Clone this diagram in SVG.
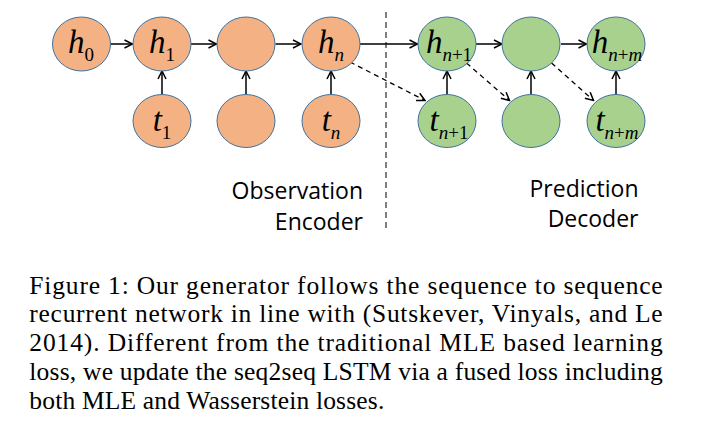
<svg xmlns="http://www.w3.org/2000/svg" width="706" height="430" viewBox="0 0 706 430">
<defs>
<style>
.o{fill:#F4B183;stroke:#41719C;stroke-width:1}
.g{fill:#A9D18E;stroke:#41719C;stroke-width:1}
.a{stroke:#000;stroke-width:1.5;fill:none;marker-end:url(#ah)}
.d{stroke:#000;stroke-width:1.3;fill:none;stroke-dasharray:5 4;marker-end:url(#ah)}
.lbl{font-family:"Liberation Serif","Times New Roman",serif;font-size:33px;font-style:italic;fill:#000;text-anchor:middle}
.sub{font-size:19px}
.up{font-style:normal}
.hd{font-family:"Open Sans","DejaVu Sans",sans-serif;font-size:23px;fill:#000;text-anchor:end}
.cap{font-family:"Liberation Serif","Times New Roman",serif;font-size:25.5px;fill:#000}
</style>
<marker id="ah" viewBox="0 0 10 10" refX="9" refY="5" markerWidth="10" markerHeight="10" markerUnits="userSpaceOnUse" orient="auto">
<path d="M1,1 L9,5 L1,9" fill="none" stroke="#000" stroke-width="1.5"/>
</marker>
</defs>
<g id="connectors">
<line class="a" x1="110.5" y1="44" x2="132.5" y2="44"/>
<line class="a" x1="191" y1="44" x2="216.5" y2="44"/>
<line class="a" x1="275.5" y1="44" x2="301" y2="44"/>
<line class="a" x1="360" y1="44" x2="417.5" y2="44"/>
<line class="a" x1="476" y1="44" x2="502" y2="44"/>
<line class="a" x1="561" y1="44" x2="586.5" y2="44"/>
<line class="a" x1="162" y1="95" x2="162" y2="71"/>
<line class="a" x1="246" y1="95" x2="246" y2="71"/>
<line class="a" x1="331" y1="95" x2="331" y2="71"/>
<line class="a" x1="447" y1="95" x2="447" y2="71"/>
<line class="a" x1="531" y1="95" x2="531" y2="71"/>
<line class="a" x1="616" y1="95" x2="616" y2="71"/>
<line class="d" x1="350" y1="62" x2="425" y2="100.5"/>
<line class="d" x1="466.5" y1="63" x2="509.5" y2="100.5"/>
<line class="d" x1="551.5" y1="63" x2="593.5" y2="100.5"/>
<line x1="386" y1="12" x2="386" y2="232" stroke="#000" stroke-width="1" stroke-dasharray="6 4"/>
</g>
<g id="h0"><ellipse class="o" cx="81.5" cy="44" rx="29" ry="27"/><text class="lbl" x="81" y="53">h<tspan class="sub up" dy="8">0</tspan></text></g>
<g id="h1"><ellipse class="o" cx="162" cy="44" rx="29" ry="27"/><text class="lbl" x="162" y="53">h<tspan class="sub up" dy="8">1</tspan></text></g>
<g id="h2"><ellipse class="o" cx="246" cy="44" rx="29" ry="27"/></g>
<g id="hn"><ellipse class="o" cx="331" cy="44" rx="29" ry="27"/><text class="lbl" x="331" y="53">h<tspan class="sub" dy="8">n</tspan></text></g>
<g id="t1"><ellipse class="o" cx="162" cy="121" rx="29" ry="26.5"/><text class="lbl" x="162" y="131">t<tspan class="sub up" dy="8">1</tspan></text></g>
<g id="t2"><ellipse class="o" cx="246" cy="121" rx="29" ry="26.5"/></g>
<g id="tn"><ellipse class="o" cx="331" cy="121" rx="29" ry="26.5"/><text class="lbl" x="331" y="131">t<tspan class="sub" dy="8">n</tspan></text></g>
<g id="hn1"><ellipse class="g" cx="447" cy="44" rx="29" ry="27"/><text class="lbl" x="449" y="53">h<tspan class="sub" dy="8">n</tspan><tspan class="sub up">+1</tspan></text></g>
<g id="hn2"><ellipse class="g" cx="531" cy="44" rx="29" ry="27"/></g>
<g id="hnm"><ellipse class="g" cx="616" cy="44" rx="29" ry="27"/><text class="lbl" x="617" y="53">h<tspan class="sub" dy="8">n</tspan><tspan class="sub up">+</tspan><tspan class="sub">m</tspan></text></g>
<g id="tn1"><ellipse class="g" cx="447" cy="121" rx="29" ry="26.5"/><text class="lbl" x="449" y="131">t<tspan class="sub" dy="8">n</tspan><tspan class="sub up">+1</tspan></text></g>
<g id="tn2"><ellipse class="g" cx="531" cy="121" rx="29" ry="26.5"/></g>
<g id="tnm"><ellipse class="g" cx="616" cy="121" rx="29" ry="26.5"/><text class="lbl" x="617" y="131">t<tspan class="sub" dy="8">n</tspan><tspan class="sub up">+</tspan><tspan class="sub">m</tspan></text></g>
<g id="labels">
<text class="hd" x="363" y="199">Observation</text>
<text class="hd" x="363" y="230">Encoder</text>
<text class="hd" x="638.5" y="197">Prediction</text>
<text class="hd" x="638.5" y="227">Decoder</text>
</g>
<g id="caption" class="cap">
<text x="29.3" y="293.5" textLength="633.4" lengthAdjust="spacing">Figure 1: Our generator follows the sequence to sequence</text>
<text x="29.3" y="322" textLength="633.4" lengthAdjust="spacing">recurrent network in line with (Sutskever, Vinyals, and Le</text>
<text x="29.3" y="351" textLength="633.4" lengthAdjust="spacing">2014). Different from the traditional MLE based learning</text>
<text x="29.3" y="380" textLength="633.4" lengthAdjust="spacing">loss, we update the seq2seq LSTM via a fused loss including</text>
<text x="29.3" y="408.5" textLength="355" lengthAdjust="spacing">both MLE and Wasserstein losses.</text>
</g>
</svg>
